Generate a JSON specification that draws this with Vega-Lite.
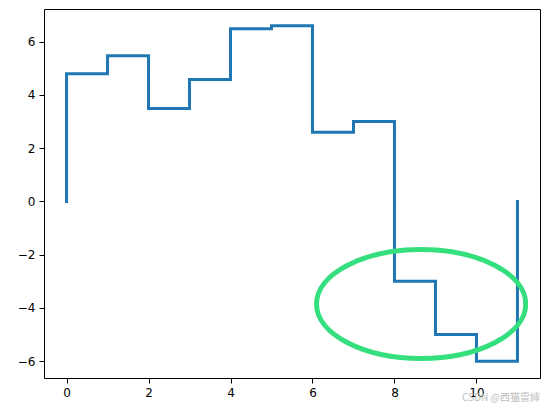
{
  "$schema": "https://vega.github.io/schema/vega-lite/v6.json",
  "width": 496,
  "height": 369,
  "autosize": {"type": "none"},
  "padding": {"left": 44, "top": 9, "right": 9, "bottom": 31},
  "background": "white",
  "config": {
    "view": {"stroke": "black", "strokeWidth": 1},
    "axis": {
      "grid": false,
      "domain": false,
      "tickColor": "black",
      "tickSize": 5,
      "tickWidth": 1,
      "labelFont": "DejaVu Sans",
      "labelFontSize": 12,
      "labelColor": "black",
      "labelPadding": 4,
      "title": null
    }
  },
  "title": {
    "text": "CSDN @西猫雷婶",
    "orient": "bottom",
    "anchor": "end",
    "frame": "group",
    "font": "Noto Sans CJK SC",
    "fontSize": 10,
    "fontWeight": "normal",
    "color": "#bdbdbd",
    "offset": -5
  },
  "datasets": {
    "steps": [
      {"i": 0, "x": 0, "y": 0},
      {"i": 1, "x": 0, "y": 4.8},
      {"i": 2, "x": 1, "y": 4.8},
      {"i": 3, "x": 1, "y": 5.47},
      {"i": 4, "x": 2, "y": 5.47},
      {"i": 5, "x": 2, "y": 3.49},
      {"i": 6, "x": 3, "y": 3.49},
      {"i": 7, "x": 3, "y": 4.58},
      {"i": 8, "x": 4, "y": 4.58},
      {"i": 9, "x": 4, "y": 6.49},
      {"i": 10, "x": 5, "y": 6.49},
      {"i": 11, "x": 5, "y": 6.6},
      {"i": 12, "x": 6, "y": 6.6},
      {"i": 13, "x": 6, "y": 2.6},
      {"i": 14, "x": 7, "y": 2.6},
      {"i": 15, "x": 7, "y": 3.0},
      {"i": 16, "x": 8, "y": 3.0},
      {"i": 17, "x": 8, "y": -3.0},
      {"i": 18, "x": 9, "y": -3.0},
      {"i": 19, "x": 9, "y": -5.0},
      {"i": 20, "x": 10, "y": -5.0},
      {"i": 21, "x": 10, "y": -6.0},
      {"i": 22, "x": 11, "y": -6.0},
      {"i": 23, "x": 11, "y": 0}
    ],
    "ellipse": [{"cx": 8.65, "cy": -3.85}]
  },
  "layer": [
    {
      "data": {"name": "steps"},
      "mark": {"type": "line", "color": "#1f77b4", "strokeWidth": 3, "strokeJoin": "miter", "strokeCap": "square"},
      "encoding": {
        "x": {
          "field": "x", "type": "quantitative",
          "scale": {"domain": [-0.55, 11.55], "nice": false, "zero": false},
          "axis": {"values": [0, 2, 4, 6, 8, 10], "format": "d"}
        },
        "y": {
          "field": "y", "type": "quantitative",
          "scale": {"domain": [-6.63, 7.23], "nice": false, "zero": false},
          "axis": {"values": [-6, -4, -2, 0, 2, 4, 6], "format": "d", "labelExpr": "replace(datum.label, '-', '−')"}
        },
        "order": {"field": "i", "type": "quantitative"}
      }
    },
    {
      "data": {"name": "ellipse"},
      "mark": {
        "type": "point",
        "filled": false,
        "stroke": "#35df7e",
        "strokeWidth": 5,
        "opacity": 1,
        "size": 43766,
        "shape": "M -1 0 C -1 -0.2877 -0.5523 -0.521 0 -0.521 C 0.5523 -0.521 1 -0.2877 1 0 C 1 0.2877 0.5523 0.521 0 0.521 C -0.5523 0.521 -1 0.2877 -1 0 Z"
      },
      "encoding": {
        "x": {"field": "cx", "type": "quantitative"},
        "y": {"field": "cy", "type": "quantitative"}
      }
    }
  ]
}
